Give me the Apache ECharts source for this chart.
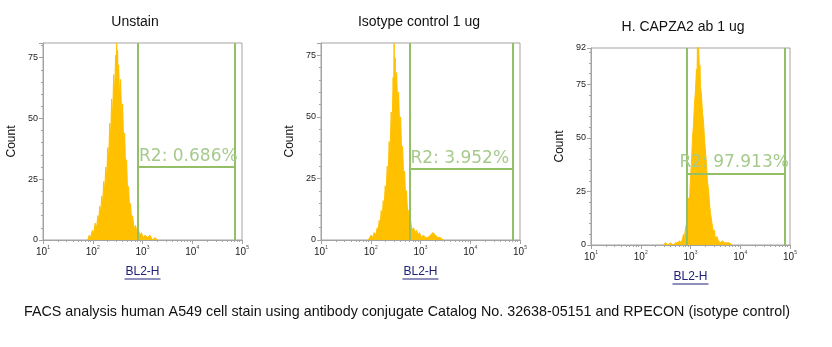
<!DOCTYPE html>
<html><head><meta charset="utf-8">
<script src="https://cdn.jsdelivr.net/npm/echarts@6/dist/echarts.min.js"></script>
<style>html,body{margin:0;padding:0;background:#fff}#c{width:832px;height:347px}</style>
</head><body><div id="c"></div>
<script>
// ---- data ----
const panelTitles = ['Unstain', 'Isotype control 1 ug', 'H. CAPZA2 ab 1 ug'];
const caption = 'FACS analysis human A549 cell stain using antibody conjugate Catalog No. 32638-05151 and RPECON (isotype control)';
const xAxisName = 'BL2-H';
const yAxisName = 'Count';

const unstainBL2 = [79,85,91,98,105,112,120,126,132,138,145,151,158,166,174,182,191,200,209,219,229,240,251,263,275,288,295,302,309,316,324,331,347,363,380,398,417,437,457,479,501,525,550,575,603,631,676,724,776,832,891,955,1023,1122,1259,1413,1585,1778,1995];
const unstainCount = [0,2,1,4,3,7,5,10,8,14,11,18,15,24,20,30,26,38,33,48,42,58,50,68,60,76,66,81,70,78,64,72,58,66,50,56,40,44,30,33,20,22,13,15,8,10,5,6,3,4,2,3,1,2,1,2,0,1,0];

const isotypeBL2 = [89,95,102,110,117,126,135,141,148,155,162,170,178,186,195,204,214,224,234,245,257,269,282,288,295,302,309,316,331,347,363,380,398,417,437,457,479,501,525,550,575,603,631,676,724,776,832,891,955,1047,1148,1259,1413,1585,1778,1995,2239,2512,2884];
const isotypeCount = [0,1,2,1,3,2,5,4,8,6,12,9,16,13,22,19,30,26,40,35,52,46,66,58,80,64,74,60,68,55,60,46,50,36,38,26,28,18,20,11,12,7,8,4,5,3,4,2,3,1,2,1,1,2,3,2,1,1,0];

const capza2BL2 = [282,316,355,398,447,501,550,603,646,692,724,759,794,832,871,912,955,1000,1047,1096,1148,1202,1259,1318,1349,1380,1413,1445,1479,1514,1549,1585,1660,1738,1820,1905,1995,2089,2188,2291,2399,2512,2630,2754,2884,3020,3162,3388,3631,3981,4365,4786,5248,6026,6918];
const capza2Count = [0,1,0,1,0,1,1,2,1,3,5,4,8,10,14,22,20,32,38,50,56,66,72,82,76,94,84,94,88,80,84,74,70,62,58,50,44,38,30,26,20,15,12,9,6,7,3,4,2,1,2,1,1,1,0];

const gateLow = [813, 600, 830];
const gateHigh = [72000, 72000, 77000];
const gateLevel = [30, 29, 33.5];
const gateLabels = ['R2: 0.686%', 'R2: 3.952%', 'R2: 97.913%'];
const countMax = [81, 80, 92];
const countTicks = [[0,25,50,75],[0,25,50,75],[0,25,50,75,92]];
const xMin = 10, xMax = 100000;

// ---- layout / style ----
const grids = [
  {left: 43, top: 43, width: 199, height: 197},
  {left: 321, top: 43, width: 199, height: 197},
  {left: 591, top: 48, width: 199, height: 197}
];
const titlePos = [{x: 135, y: 15}, {x: 419, y: 15}, {x: 683, y: 20}];
const labelOffset = [[-3, 2], [-3, 2], [-11, 2]];
const histColor = '#FFC000';
const gateColor = '#93bf66';
const gateTextColor = '#a6ca8c';
const frameColor = '#a3a3a3';
const FONT = 'Liberation Sans, Arial, sans-serif';

const histX = [unstainBL2, isotypeBL2, capza2BL2];
const histY = [unstainCount, isotypeCount, capza2Count];

const chart = echarts.init(document.getElementById('c'), null, {renderer: 'canvas'});

const option = {
  animation: false,
  backgroundColor: '#fff',
  title: panelTitles.map((t, i) => ({
    text: t, left: titlePos[i].x, top: titlePos[i].y, textAlign: 'center', padding: 0,
    textStyle: {fontFamily: FONT, fontSize: 14, fontWeight: 'normal', color: '#111'}
  })).concat([{
    text: caption, left: 24, top: 305, padding: 0,
    textStyle: {fontFamily: FONT, fontSize: 14.3, fontWeight: 'normal', color: '#111'}
  }]),
  grid: grids.map(g => Object.assign({show: true, borderColor: frameColor, borderWidth: 1, backgroundColor: '#fff'}, g)),
  xAxis: grids.map((g, i) => ({
    type: 'log', logBase: 10, min: xMin, max: xMax, gridIndex: i,
    axisLine: {show: true, lineStyle: {color: frameColor, width: 1}},
    axisTick: {show: true, length: 4, lineStyle: {color: frameColor}},
    minorTick: {show: true, splitNumber: 9, length: 2, lineStyle: {color: frameColor}},
    splitLine: {show: false},
    axisLabel: {
      margin: 5,
      formatter: v => '{b|10}{s|' + Math.round(Math.log10(v)) + '}',
      rich: {
        b: {fontFamily: FONT, fontSize: 10, color: '#222', verticalAlign: 'bottom', lineHeight: 12},
        s: {fontFamily: FONT, fontSize: 5, color: '#444', verticalAlign: 'top', lineHeight: 12}
      }
    },
    name: xAxisName + '\n{u|}', nameLocation: 'middle', nameGap: 25,
    nameTextStyle: {
      fontFamily: FONT, fontSize: 12, color: '#20207a', lineHeight: 13,
      rich: {u: {width: 36, height: 1, backgroundColor: '#20207a', lineHeight: 2}}
    }
  })),
  yAxis: grids.map((g, i) => ({
    type: 'value', min: 0, max: countMax[i], interval: 25, gridIndex: i,
    axisLine: {show: true, lineStyle: {color: frameColor, width: 1}},
    axisTick: {show: true, length: 4, lineStyle: {color: frameColor}},
    minorTick: {show: true, splitNumber: 5, length: 2, lineStyle: {color: frameColor}},
    splitLine: {show: false},
    axisLabel: {
      margin: 5, fontFamily: FONT, fontSize: 9, color: '#222',
      formatter: v => countTicks[i].indexOf(Math.round(v)) >= 0 && Math.abs(v - Math.round(v)) < 1e-6 ? String(Math.round(v)) : ''
    },
    name: yAxisName, nameLocation: 'middle', nameGap: 25,
    nameTextStyle: {fontFamily: FONT, fontSize: 12, color: '#111'}
  })),
  series: []
};

grids.forEach((g, i) => {
  option.series.push({
    type: 'line', xAxisIndex: i, yAxisIndex: i, z: 2,
    data: histX[i].map((x, k) => [x, histY[i][k]]),
    showSymbol: false, symbol: 'none', silent: true,
    lineStyle: {color: histColor, width: 1},
    areaStyle: {color: histColor, opacity: 1}
  });
  option.series.push({
    type: 'line', xAxisIndex: i, yAxisIndex: i, z: 3, data: [], silent: true,
    markLine: {
      silent: true, symbol: 'none', animation: false,
      lineStyle: {color: gateColor, width: 2, type: 'solid'},
      label: {show: false},
      emphasis: {disabled: true},
      data: [
        {xAxis: gateLow[i]},
        {xAxis: gateHigh[i]},
        [
          {coord: [gateLow[i], gateLevel[i]],
           label: {show: true, position: 'insideStartTop', formatter: gateLabels[i], distance: 4,
                   offset: labelOffset[i], color: gateTextColor,
                   fontFamily: 'DejaVu Sans, Verdana, sans-serif', fontSize: 17}},
          {coord: [gateHigh[i], gateLevel[i]]}
        ]
      ]
    }
  });
});

chart.setOption(option);
</script>
</body></html>
